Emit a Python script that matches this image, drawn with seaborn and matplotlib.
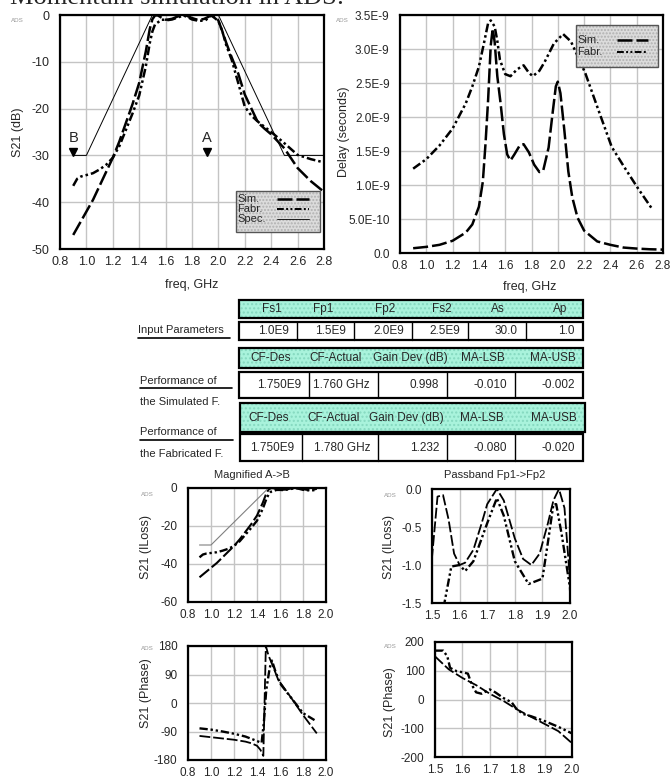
import numpy as np
import pandas as pd
import matplotlib
matplotlib.use("Agg")
import matplotlib.pyplot as plt
import seaborn as sns
from matplotlib.patches import Rectangle
from matplotlib.lines import Line2D
from matplotlib.ticker import FixedLocator, MultipleLocator, FixedFormatter

# ---------------- DATA ----------------
# S21 magnitude (dB), simulated
sim_f = [0.90, 0.95, 1.00, 1.05, 1.10, 1.15, 1.20, 1.25, 1.30, 1.35, 1.40, 1.45, 1.48,
         1.50, 1.52, 1.54, 1.56, 1.58, 1.60, 1.62, 1.65, 1.68, 1.70, 1.735, 1.76, 1.80,
         1.83, 1.86, 1.89, 1.92, 1.94, 1.96, 1.98, 2.00, 2.03, 2.06, 2.10, 2.15, 2.20,
         2.25, 2.30, 2.35, 2.40, 2.50, 2.60, 2.70, 2.80]
sim_db = [-47.0, -44.5, -42.0, -39.5, -36.5, -33.5, -30.5, -27.0, -23.0, -19.0, -14.5, -7.8, -3.0,
          -0.9, -0.1, -0.08, -0.4, -0.85, -1.0, -0.97, -0.8, -0.45, -0.2, 0.0, -0.15, -0.65,
          -0.92, -1.0, -0.85, -0.45, -0.15, 0.0, -0.25, -1.2, -3.5, -6.0, -9.0, -12.5, -17.0,
          -20.0, -23.0, -24.3, -25.5, -28.5, -32.7, -35.5, -37.8]
# S21 magnitude (dB), fabricated
fab_f = [0.90, 0.93, 0.96, 1.00, 1.05, 1.10, 1.15, 1.20, 1.25, 1.30, 1.35, 1.40, 1.45, 1.48,
         1.50, 1.52, 1.545, 1.57, 1.60, 1.62, 1.65, 1.68, 1.70, 1.735, 1.76, 1.80, 1.85,
         1.90, 1.92, 1.94, 1.95, 1.97, 2.00, 2.03, 2.06, 2.10, 2.15, 2.20, 2.25, 2.30,
         2.40, 2.50, 2.60, 2.70, 2.80]
fab_db = [-36.5, -35.0, -34.5, -34.2, -33.8, -33.0, -32.0, -30.5, -28.0, -24.5, -21.0, -17.2, -11.0, -6.0,
          -3.5, -2.0, -1.5, -1.02, -1.0, -1.08, -0.95, -0.65, -0.45, -0.12, -0.35, -0.95, -1.25,
          -1.18, -0.7, -0.2, -0.2, -0.6, -1.3, -3.5, -6.5, -9.5, -14.5, -19.6, -21.5, -22.8,
          -25.0, -27.4, -29.9, -30.8, -31.5]
# Specification mask
spec_f = [0.9, 1.0, 1.5, 2.0, 2.5, 2.8]
spec_db = [-30, -30, 0, 0, -30, -30]
spec_mag_f = [0.9, 1.0, 1.5, 1.92]
spec_mag_db = [-30, -30, 0, 0]

# Group delay (ns)
dsim_f = [0.90, 1.00, 1.10, 1.20, 1.30, 1.35, 1.40, 1.43, 1.45, 1.47, 1.49, 1.505, 1.52, 1.54,
          1.565, 1.59, 1.615, 1.64, 1.67, 1.71, 1.74, 1.78, 1.82, 1.86, 1.89, 1.93, 1.96,
          1.985, 2.00, 2.02, 2.05, 2.08, 2.11, 2.15, 2.20, 2.30, 2.40, 2.50, 2.60, 2.70, 2.80]
dsim_ns = [0.07, 0.09, 0.12, 0.18, 0.30, 0.42, 0.68, 1.05, 1.60, 2.25, 3.05, 3.30, 3.10, 2.60,
           2.20, 1.75, 1.45, 1.36, 1.45, 1.58, 1.60, 1.48, 1.30, 1.19, 1.22, 1.55, 2.05,
           2.45, 2.52, 2.35, 1.80, 1.20, 0.82, 0.52, 0.33, 0.17, 0.12, 0.08, 0.065, 0.055, 0.05]
dfab_f = [0.90, 1.00, 1.10, 1.20, 1.30, 1.35, 1.40, 1.44, 1.47, 1.49, 1.52, 1.54, 1.56, 1.60,
          1.64, 1.69, 1.74, 1.78, 1.81, 1.86, 1.90, 1.97, 2.04, 2.10, 2.15, 2.21, 2.30, 2.41,
          2.50, 2.61, 2.72]
dfab_ns = [1.24, 1.38, 1.58, 1.83, 2.20, 2.45, 2.74, 3.10, 3.38, 3.42, 3.33, 3.12, 2.84, 2.63,
           2.60, 2.70, 2.76, 2.65, 2.60, 2.68, 2.81, 3.08, 3.22, 3.11, 2.90, 2.64, 2.15, 1.56,
           1.28, 0.95, 0.64]

# S21 phase (deg), band B->A
ph_sim_f = [0.90, 1.00, 1.10, 1.20, 1.30, 1.35, 1.40, 1.43, 1.455, 1.477, 1.50, 1.54, 1.585,
            1.65, 1.70, 1.80, 1.92]
ph_sim = [-104, -108, -112, -116, -122, -127, -135, -148, -167, 180, 150, 115, 73,
          40, 15, -38, -96]
ph_fab_f = [0.90, 1.00, 1.10, 1.20, 1.30, 1.40, 1.44, 1.46, 1.48, 1.51, 1.53, 1.56, 1.60,
            1.70, 1.80, 1.90]
ph_fab = [-80, -84, -90, -97, -106, -120, -126, -60, 40, 110, 134, 100, 62,
          15, -32, -54]
# S21 phase (deg), passband
pp_sim_f = [1.50, 1.55, 1.60, 1.65, 1.70, 1.75, 1.80, 1.85, 1.90, 1.95, 2.00]
pp_sim = [150, 105, 75, 50, 20, -5, -35, -60, -85, -110, -152]
pp_fab_f = [1.50, 1.53, 1.545, 1.555, 1.58, 1.60, 1.62, 1.635, 1.65, 1.67, 1.70, 1.72, 1.75,
            1.78, 1.795, 1.82, 1.85, 1.90, 1.95, 2.00]
pp_fab = [170, 170, 150, 110, 98, 95, 90, 50, 25, 20, 35, 25, 5,
          -10, -30, -50, -58, -75, -95, -118]

# Table contents
hdr1 = ["Fs1", "Fp1", "Fp2", "Fs2", "As", "Ap"]
val1 = ["1.0E9", "1.5E9", "2.0E9", "2.5E9", "30.0", "1.0"]
hdr2 = ["CF-Des", "CF-Actual", "Gain Dev (dB)", "MA-LSB", "MA-USB"]
val_sim = ["1.750E9", "1.760 GHz", "0.998", "-0.010", "-0.002"]
val_fab = ["1.750E9", "1.780 GHz", "1.232", "-0.080", "-0.020"]

# ---------------- STYLE ----------------
sns.set_style("white")
plt.rcParams['font.family'] = ['Liberation Sans', 'DejaVu Sans']
plt.rcParams['axes.unicode_minus'] = False

W, H = 672, 778
fig = plt.figure(figsize=(W / 100, H / 100), dpi=100)

SIM_LS = (0, (6, 1.6))
FAB_LS = (0, (3.5, 1.2, 1, 1.2, 1, 1.2))


def add_ax(l, t, r, b):
    return fig.add_axes([l / W, 1 - b / H, (r - l) / W, (b - t) / H])


def style_ax(ax, xlim, ylim, xmaj, xmin, ymaj, ymin, xlabels, ylabels, fs):
    ax.set_xlim(*xlim)
    ax.set_ylim(*ylim)
    ax.xaxis.set_major_locator(FixedLocator(xmaj))
    ax.yaxis.set_major_locator(FixedLocator(ymaj))
    ax.xaxis.set_minor_locator(MultipleLocator(xmin))
    ax.yaxis.set_minor_locator(MultipleLocator(ymin))
    ax.xaxis.set_major_formatter(FixedFormatter(xlabels))
    ax.yaxis.set_major_formatter(FixedFormatter(ylabels))
    ax.grid(True, which='major', color='#c4c4c4', lw=1.0)
    ax.set_axisbelow(True)
    for s in ax.spines.values():
        s.set_color('black')
        s.set_linewidth(1.6)
    ax.tick_params(axis='y', which='major', direction='out', length=6, width=1.2,
                   labelsize=fs, pad=1.5)
    ax.tick_params(axis='x', which='major', direction='inout', length=7, width=1.2,
                   labelsize=fs, pad=1.5)
    ax.tick_params(which='minor', direction='in', length=3.5, width=1.0)
    ax.set_xlabel("")
    ax.set_ylabel("")


def line(ax, x, y, ls, lw=1.8, color='black'):
    df = pd.DataFrame({"x": x, "y": y})
    sns.lineplot(data=df, x="x", y="y", ax=ax, color=color, lw=lw, linestyle=ls,
                 estimator=None, sort=False, legend=False)


fmt1 = lambda vals: ["%.1f" % v for v in vals]
TOPFS = 9
BOTFS = 8.5

# ---- Top-left: S21 (dB)
a1 = add_ax(60, 15, 324, 249)
line(a1, sim_f, sim_db, SIM_LS)
line(a1, fab_f, fab_db, FAB_LS)
line(a1, spec_f, spec_db, '-', lw=0.7)
xt = [0.8, 1.0, 1.2, 1.4, 1.6, 1.8, 2.0, 2.2, 2.4, 2.6, 2.8]
style_ax(a1, (0.8, 2.8), (-50, 0), xt, 0.1, [0, -10, -20, -30, -40, -50], 2,
         fmt1(xt), ["0", "-10", "-20", "-30", "-40", "-50"], TOPFS)
a1.plot([0.9, 1.913], [-29.3, -29.3], linestyle='none', marker='v', color='black', ms=6)
a1.text(0.9, -27.1, "B", ha='center', va='baseline', fontsize=10.5)
a1.text(1.913, -27.1, "A", ha='center', va='baseline', fontsize=10.5)

# ---- Top-right: delay
a2 = add_ax(400, 15, 663, 253)
line(a2, dsim_f, np.array(dsim_ns) * 1e-9, SIM_LS)
line(a2, dfab_f, np.array(dfab_ns) * 1e-9, FAB_LS)
yt2 = [0, 0.5e-9, 1.0e-9, 1.5e-9, 2.0e-9, 2.5e-9, 3.0e-9, 3.5e-9]
style_ax(a2, (0.8, 2.8), (0, 3.5e-9), xt, 0.1, yt2, 0.1e-9,
         fmt1(xt), ["0.0", "5.0E-10", "1.0E-9", "1.5E-9", "2.0E-9", "2.5E-9", "3.0E-9", "3.5E-9"],
         8.5)

# ---- Magnified A->B
m_sim = [(f, d) for f, d in zip(sim_f, sim_db) if f <= 1.925]
m_fab = [(f, d) for f, d in zip(fab_f, fab_db) if f <= 1.925]
a3 = add_ax(188, 488, 326, 602)
line(a3, [p[0] for p in m_sim], [p[1] for p in m_sim], SIM_LS, lw=1.5)
line(a3, [p[0] for p in m_fab], [p[1] for p in m_fab], FAB_LS, lw=1.7)
line(a3, spec_mag_f, spec_mag_db, '-', lw=0.8, color='#808080')
xt3 = [0.8, 1.0, 1.2, 1.4, 1.6, 1.8, 2.0]
style_ax(a3, (0.8, 2.0), (-60, 0), xt3, 0.1, [0, -20, -40, -60], 10,
         fmt1(xt3), ["0", "-20", "-40", "-60"], BOTFS)

# ---- Passband
a4 = add_ax(432, 489, 570, 603)
line(a4, sim_f, sim_db, SIM_LS, lw=1.3)
line(a4, fab_f, fab_db, FAB_LS, lw=1.7)
xt4 = [1.5, 1.6, 1.7, 1.8, 1.9, 2.0]
style_ax(a4, (1.5, 2.0), (-1.5, 0), xt4, 0.05, [0, -0.5, -1.0, -1.5], 0.1,
         fmt1(xt4), ["0.0", "-0.5", "-1.0", "-1.5"], BOTFS)

# ---- Phase B->A
a5 = add_ax(188, 646, 326, 760)
line(a5, ph_sim_f, ph_sim, SIM_LS, lw=1.3)
line(a5, ph_fab_f, ph_fab, FAB_LS, lw=1.7)
style_ax(a5, (0.8, 2.0), (-180, 180), xt3, 0.1, [180, 90, 0, -90, -180], 30,
         fmt1(xt3), ["180", "90", "0", "-90", "-180"], BOTFS)

# ---- Phase passband
a6 = add_ax(435, 642, 572, 757)
line(a6, pp_sim_f, pp_sim, SIM_LS, lw=1.3)
line(a6, pp_fab_f, pp_fab, FAB_LS, lw=1.7)
style_ax(a6, (1.5, 2.0), (-200, 200), xt4, 0.05, [200, 100, 0, -100, -200], 50,
         fmt1(xt4), ["200", "100", "0", "-100", "-200"], BOTFS)

# ---------------- OVERLAY (text, legends, table) ----------------
ov = fig.add_axes([0, 0, 1, 1], zorder=10)
ov.set_xlim(0, W)
ov.set_ylim(H, 0)
ov.axis('off')
ov.patch.set_alpha(0)

ov.text(10, 3.5, "Momentum simulation in ADS:", fontsize=19, ha='left', va='baseline',
        family=['Liberation Serif', 'DejaVu Serif'])

LFS = 9
ov.text(18, 132, "S21 (dB)", rotation=90, ha='center', va='center', fontsize=LFS)
ov.text(344, 132, "Delay (seconds)", rotation=90, ha='center', va='center', fontsize=LFS)
ov.text(192, 285, "freq, GHz", ha='center', va='center', fontsize=LFS)
ov.text(530, 287, "freq, GHz", ha='center', va='center', fontsize=LFS)
ov.text(146, 547, "S21 (ILoss)", rotation=90, ha='center', va='center', fontsize=LFS)
ov.text(389, 547, "S21 (ILoss)", rotation=90, ha='center', va='center', fontsize=LFS)
ov.text(146, 693, "S21 (Phase)", rotation=90, ha='center', va='center', fontsize=LFS)
ov.text(390, 702, "S21 (Phase)", rotation=90, ha='center', va='center', fontsize=LFS)
ov.text(252, 475, "Magnified A->B", ha='center', va='center', fontsize=8)
ov.text(495, 475, "Passband Fp1->Fp2", ha='center', va='center', fontsize=8)
for (x, y) in [(17, 20), (342, 20), (147, 494), (390, 495), (147, 648), (390, 647)]:
    ov.text(x, y, "ADS", ha='center', va='center', fontsize=4.5, color='#9a9a9a')


def legend_box(l, t, r, b, labels, ys, styles, x0, x1):
    ov.add_patch(Rectangle((l, t), r - l, b - t, facecolor='#dcdcdc', edgecolor='#b0b0b0',
                           hatch='.....', lw=0))
    ov.add_patch(Rectangle((l, t), r - l, b - t, facecolor='none', edgecolor='#555555', lw=1.0))
    for lab, y, (ls, lw) in zip(labels, ys, styles):
        ov.text(l + 1, y, lab, ha='left', va='center', fontsize=8)
        ov.add_line(Line2D([x0, x1], [y, y], color='black', lw=lw, linestyle=ls))


legend_box(236, 191, 320, 232, ["Sim.", "Fabr.", "Spec."], [198.5, 208.5, 219],
           [(SIM_LS, 1.8), (FAB_LS, 1.4), ('-', 0.6)], 277, 309)
legend_box(576, 25, 658, 67, ["Sim.", "Fabr."], [40, 52],
           [(SIM_LS, 1.8), (FAB_LS, 1.4)], 617, 648)

MINT = '#a9f3dc'
TFS = 8.5


def header_row(l, t, r, b, labels, xs):
    ov.add_patch(Rectangle((l, t), r - l, b - t, facecolor=MINT, edgecolor='#86d9c0',
                           hatch='....', lw=0))
    ov.add_patch(Rectangle((l, t), r - l, b - t, facecolor='none', edgecolor='black', lw=1.6))
    for lab, x in zip(labels, xs):
        ov.text(x, (t + b) / 2, lab, ha='center', va='center', fontsize=TFS)


def value_row(l, t, r, b, values, dividers):
    ov.add_patch(Rectangle((l, t), r - l, b - t, facecolor='white', edgecolor='black', lw=1.6))
    ends = list(dividers) + [r]
    for d in dividers:
        ov.add_line(Line2D([d, d], [t, b], color='black', lw=1.0))
    for v, e in zip(values, ends):
        ov.text(e - 8, (t + b) / 2, v, ha='right', va='center', fontsize=TFS)


header_row(239, 300, 583, 318, hdr1, [272, 323, 385, 442, 498, 560])
value_row(239, 322, 583, 340, val1, [297, 354, 412, 468, 526])
header_row(239, 348, 583, 368, hdr2, [271, 336, 410, 483, 553])
value_row(239, 372, 583, 398, val_sim, [309, 378, 447, 515])
header_row(240, 403, 585, 432, hdr2, [269, 334, 406, 482, 554])
value_row(240, 434, 583, 461, val_fab, [302, 378, 447, 515])

SFS = 8
ov.text(138, 330, "Input Parameters", ha='left', va='center', fontsize=SFS)
ov.add_line(Line2D([138, 230], [338, 338], color='black', lw=1.2))
ov.text(140, 381, "Performance of", ha='left', va='center', fontsize=SFS)
ov.add_line(Line2D([140, 232], [388, 388], color='black', lw=1.2))
ov.text(140, 402, "the Simulated F.", ha='left', va='center', fontsize=SFS)
ov.text(140, 432, "Performance of", ha='left', va='center', fontsize=SFS)
ov.add_line(Line2D([140, 233], [440, 440], color='black', lw=1.2))
ov.text(140, 454, "the Fabricated F.", ha='left', va='center', fontsize=SFS)

fig.savefig("out.png", dpi=100)
